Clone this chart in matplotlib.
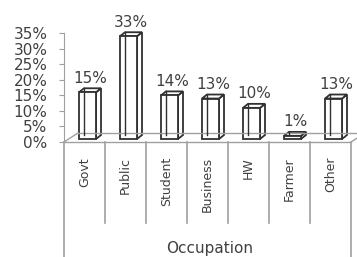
import numpy as np
import matplotlib.pyplot as plt
from matplotlib.patches import Polygon

categories = ["Govt", "Public", "Student", "Business", "HW", "Farmer", "Other"]
values = [15, 33, 14, 13, 10, 1, 13]
yticks = [0, 5, 10, 15, 20, 25, 30, 35]

W, H = 357, 257
fig = plt.figure(figsize=(W / 100, H / 100), dpi=100)
# axes box in pixels: x 64..351, y(top) 33..142
ax = fig.add_axes([64 / W, (H - 142) / H, (351 - 64) / W, (142 - 33) / H])
ax.set_xlim(-0.5, 6.5)
ax.set_ylim(0, 35)

# pixel -> data unit helpers
px_x = 7 / (351 - 64)
px_y = 35 / (142 - 33)

text_col = "#404040"
edge_col = "#303030"
grid_col = "#a0a0a0"

for s in ["top", "right", "bottom"]:
    ax.spines[s].set_visible(False)
ax.spines["left"].set_color(grid_col)
ax.spines["left"].set_bounds(0, 35)
ax.set_xticks([])
ax.set_yticks(yticks)
ax.set_yticklabels(["{}%".format(t) for t in yticks])
ax.tick_params(axis="y", length=3.5, pad=8.5, color=grid_col, labelcolor=text_col,
               labelsize=11)
ax.patch.set_visible(False)

# floor
fdx, fdy = 14 * px_x, 9 * px_y
ax.plot([-0.5, 6.5], [0, 0], color=grid_col, lw=1, clip_on=False)
ax.plot([-0.5 + fdx, 6.5 + fdx], [fdy, fdy], color=grid_col, lw=1, clip_on=False)
ax.plot([-0.5, -0.5 + fdx], [0, fdy], color=grid_col, lw=1, clip_on=False)
ax.plot([6.5, 6.5 + fdx], [0, fdy], color=grid_col, lw=1, clip_on=False)

# category separators below the floor
inner_bottom = -(223 - 142) * px_y
outer_bottom = -(H - 142 + 2) * px_y
for k in range(8):
    xb = -0.5 + k
    yb = outer_bottom if k in (0, 7) else inner_bottom
    ax.plot([xb, xb], [0, yb], color=grid_col, lw=1.2, clip_on=False)

# 3D-looking bars
bw = 17 * px_x
bdx, bdy = 5 * px_x, 4 * px_y
base = 3 * px_y
for i, (cat, v) in enumerate(zip(categories, values)):
    x0 = i - 0.5 + 15 * px_x
    x1 = x0 + bw
    y0, y1 = base, base + v
    front = Polygon([(x0, y0), (x1, y0), (x1, y1), (x0, y1)], closed=True)
    side = Polygon([(x1, y0), (x1 + bdx, y0 + bdy), (x1 + bdx, y1 + bdy), (x1, y1)], closed=True)
    top = Polygon([(x0, y1), (x1, y1), (x1 + bdx, y1 + bdy), (x0 + bdx, y1 + bdy)], closed=True)
    for p in (side, top, front):
        p.set_facecolor("white")
        p.set_edgecolor(edge_col)
        p.set_linewidth(1.3)
        p.set_clip_on(False)
        ax.add_patch(p)
    ax.plot([x0 + bdx, x0 + bdx], [y0 + bdy, y1 + bdy], color=edge_col, lw=1.0, clip_on=False)
    ax.text((x0 + x1 + bdx) / 2, y1 + bdy + 10 * px_y, "{}%".format(v),
            ha="center", va="center", fontsize=11, color=text_col, clip_on=False)
    ax.text(i, -15 * px_y, cat, rotation=90, ha="center", va="top",
            fontsize=9, color=text_col, clip_on=False)

ax.text(3.0 + 0.05, -(248 - 142) * px_y, "Occupation", ha="center", va="center",
        fontsize=11, color=text_col, clip_on=False)

fig.savefig("out.png", dpi=100)
